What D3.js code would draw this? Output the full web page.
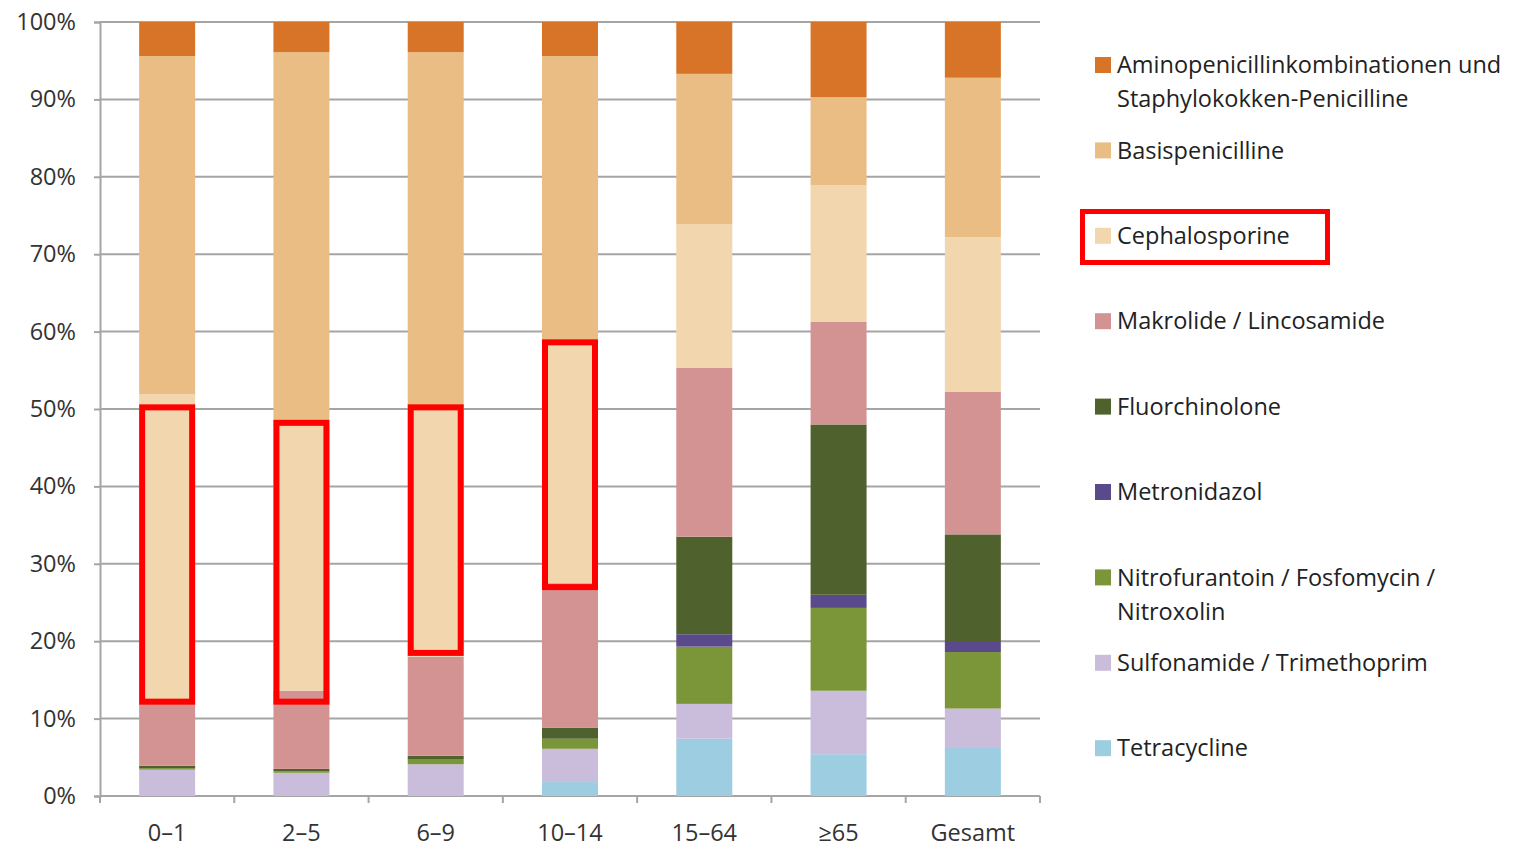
<!DOCTYPE html>
<meta charset="utf-8">
<script src="https://d3js.org/d3.v7.min.js"></script>
<style>
  body { margin: 0; background: #fff; font-family: "Open Sans", sans-serif; }
</style>
<body>
<div id="chart"></div>
<script>

// categories (age groups)
const categories = ["0–1", "2–5", "6–9", "10–14", "15–64", "≥65", "Gesamt"];

// shares in percent, one array per antibiotic group (bottom to top)
const tetracycline   = [0,    0,    0,    1.8,  7.4,  5.4,  6.2];
const sulfonamide    = [3.4,  3.0,  4.1,  4.3,  4.5,  8.2,  5.1];
const nitrofurantoin = [0.2,  0.2,  0.6,  1.3,  7.4, 10.7,  7.3];
const metronidazol   = [0,    0,    0,    0,    1.6,  1.7,  1.3];
const fluorchinolone = [0.3,  0.3,  0.5,  1.4, 12.6, 22.0, 13.9];
const makrolide      = [8.1, 10.1, 12.8, 18.7, 21.8, 13.3, 18.4];
const cephalosporine = [39.9, 34.9, 32.4, 31.3, 18.6, 17.6, 20.0];
const basispenicill  = [43.7, 47.6, 45.7, 36.8, 19.4, 11.4, 20.6];
const aminopenicill  = [4.4,  3.9,  3.9,  4.4,  6.7,  9.7,  7.2];

const yTicks = [0, 10, 20, 30, 40, 50, 60, 70, 80, 90, 100];

// red highlight boxes (percent range) drawn over the chart
const highlightCats = ["0–1", "2–5", "6–9", "10–14"];
const highlightLow  = [11.8, 11.8, 18.1, 26.6];
const highlightHigh = [50.6, 48.6, 50.6, 59.0];

const series = [
  {key: "tetra", name: ["Tetracycline"], values: tetracycline, color: "#9dcde1"},
  {key: "sulfa", name: ["Sulfonamide / Trimethoprim"], values: sulfonamide, color: "#cabddb"},
  {key: "nitro", name: ["Nitrofurantoin / Fosfomycin /", "Nitroxolin"], values: nitrofurantoin, color: "#7b9539"},
  {key: "metro", name: ["Metronidazol"], values: metronidazol, color: "#5b4a8b"},
  {key: "fluor", name: ["Fluorchinolone"], values: fluorchinolone, color: "#4f612c"},
  {key: "makro", name: ["Makrolide / Lincosamide"], values: makrolide, color: "#d49393"},
  {key: "ceph",  name: ["Cephalosporine"], values: cephalosporine, color: "#f1d6ae"},
  {key: "basis", name: ["Basispenicilline"], values: basispenicill, color: "#e9bd84"},
  {key: "amino", name: ["Aminopenicillinkombinationen und", "Staphylokokken-Penicilline"], values: aminopenicill, color: "#d87427"}
];

const table = categories.map(function(c, i) {
  const row = {cat: c};
  series.forEach(function(s) { row[s.key] = s.values[i]; });
  return row;
});

const W = 1528, H = 853;
const margin = {top: 22, right: 488, bottom: 57, left: 100},
    width = W - margin.left - margin.right,
    height = H - margin.top - margin.bottom;

const svg = d3.select("#chart")
  .append("svg")
    .attr("width", W)
    .attr("height", H)
  .append("g")
    .attr("transform", `translate(${margin.left}, ${margin.top})`);

const x = d3.scaleBand()
  .domain(categories)
  .range([0, width])
  .paddingInner(0.583)
  .paddingOuter(0.2915);

const y = d3.scaleLinear()
  .domain([0, 100])
  .range([height, 0]);

// gridlines
svg.append("g")
  .selectAll("line")
  .data(yTicks.filter(function(d) { return d > 0; }))
  .join("line")
    .attr("x1", 0)
    .attr("x2", width)
    .attr("y1", function(d) { return y(d); })
    .attr("y2", function(d) { return y(d); })
    .attr("stroke", "#a5a5a5")
    .attr("stroke-width", 2);

// Y axis
const yAxis = svg.append("g")
  .call(d3.axisLeft(y).tickValues(yTicks).tickSize(6).tickPadding(18)
    .tickFormat(function(d) { return d + "%"; }));
yAxis.select(".domain").attr("stroke", "#a5a5a5").attr("stroke-width", 2);
yAxis.selectAll(".tick line").attr("stroke", "#a5a5a5").attr("stroke-width", 2);
yAxis.selectAll(".tick text")
  .attr("font-family", "'Open Sans', sans-serif")
  .attr("font-size", 23.5)
  .attr("fill", "#333");

// X axis: ticks on category boundaries
const xAxis = svg.append("g")
  .attr("transform", `translate(0, ${height})`);
xAxis.append("line")
  .attr("x1", 0).attr("x2", width)
  .attr("stroke", "#a5a5a5").attr("stroke-width", 2);
const step = x.step();
const bounds = d3.range(categories.length + 1).map(function(i) { return i * step; });
xAxis.selectAll(".bound")
  .data(bounds)
  .join("line")
    .attr("class", "bound")
    .attr("x1", function(d) { return Math.min(d, width); })
    .attr("x2", function(d) { return Math.min(d, width); })
    .attr("y1", 0).attr("y2", 7)
    .attr("stroke", "#a5a5a5").attr("stroke-width", 2);
xAxis.selectAll(".lbl")
  .data(categories)
  .join("text")
    .attr("class", "lbl")
    .attr("x", function(d) { return x(d) + x.bandwidth() / 2; })
    .attr("y", 45)
    .attr("text-anchor", "middle")
    .attr("font-size", 23.5)
    .attr("fill", "#333")
    .text(function(d) { return d; });

// stacked bars
const stacked = d3.stack().keys(series.map(function(s) { return s.key; }))(table);

svg.append("g")
  .selectAll("g")
  .data(stacked)
  .join("g")
    .attr("fill", function(d, i) { return series[i].color; })
  .selectAll("rect")
  .data(function(d) { return d; })
  .join("rect")
    .attr("x", function(d) { return x(d.data.cat); })
    .attr("y", function(d) { return y(d[1]); })
    .attr("height", function(d) { return y(d[0]) - y(d[1]); })
    .attr("width", x.bandwidth());

// red highlight boxes
svg.append("g")
  .selectAll("rect")
  .data(highlightCats)
  .join("rect")
    .attr("x", function(d) { return x(d) + 3; })
    .attr("width", x.bandwidth() - 6)
    .attr("y", function(d, i) { return y(highlightHigh[i]) + 3; })
    .attr("height", function(d, i) { return y(highlightLow[i]) - y(highlightHigh[i]) - 6; })
    .attr("fill", "none")
    .attr("stroke", "#ff0000")
    .attr("stroke-width", 6);

// legend (top to bottom = reverse stack order)
const legend = d3.select("svg").append("g")
  .attr("transform", "translate(1095, 65)");

const rows = legend.selectAll("g")
  .data(series.slice().reverse())
  .join("g")
    .attr("transform", function(d, i) { return `translate(0, ${i * 85.4})`; });

rows.append("rect")
  .attr("x", 0).attr("y", -8)
  .attr("width", 16).attr("height", 16)
  .attr("fill", function(d) { return d.color; });

rows.each(function(d) {
  const t = d3.select(this).append("text")
    .attr("x", 22)
    .attr("font-size", 23.5)
    .attr("fill", "#222");
  d.name.forEach(function(line, j) {
    t.append("tspan")
      .attr("x", 22)
      .attr("y", j * 34)
      .attr("dy", "0.35em")
      .text(line);
  });
});

// red box around the Cephalosporine legend entry
d3.select("svg").append("rect")
  .attr("x", 1082.5).attr("y", 211.5)
  .attr("width", 245).attr("height", 51)
  .attr("fill", "none")
  .attr("stroke", "#ff0000")
  .attr("stroke-width", 5);

</script>
</body>
